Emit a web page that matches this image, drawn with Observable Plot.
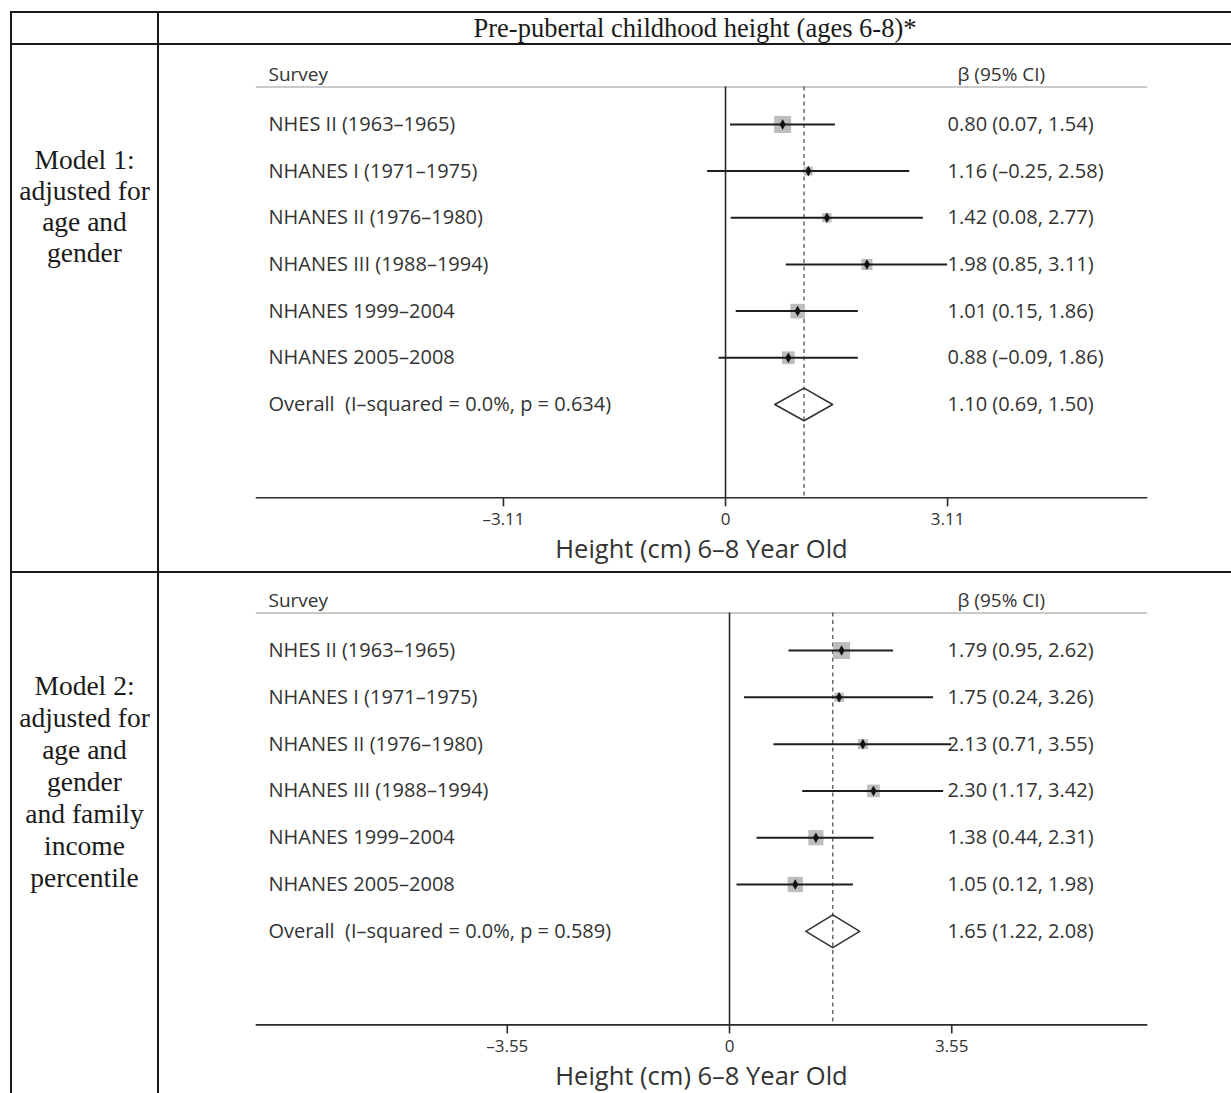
<!DOCTYPE html>
<html>
<head>
<meta charset="utf-8">
<script src="https://cdn.jsdelivr.net/npm/d3@7"></script>
<script src="https://cdn.jsdelivr.net/npm/@observablehq/plot@0.6"></script>
<style>
  html, body { margin: 0; padding: 0; background: #fff; }
  #wrap { position: relative; width: 1231px; height: 1093px; overflow: hidden; background: #fff; }
  .ln { position: absolute; background: #1a1a1a; }
  .serif { position: absolute; font-family: "Liberation Serif", "Times New Roman", serif; color: #1a1a1a; text-align: center; }
  .panel { position: absolute; left: 160px; }
</style>
</head>
<body>
<div id="wrap">
  <div class="ln" style="left:10px;top:11px;width:1221px;height:2px"></div>
  <div class="ln" style="left:10px;top:43px;width:1221px;height:2px"></div>
  <div class="ln" style="left:10px;top:571px;width:1221px;height:2px"></div>
  <div class="ln" style="left:10px;top:11px;width:2px;height:1082px"></div>
  <div class="ln" style="left:157px;top:11px;width:2px;height:1082px"></div>
  <div class="serif" id="title" style="left:159px;top:13px;width:1072px;height:30px;line-height:30px;font-size:26.5px"></div>
  <div class="serif" id="lab1" style="left:12px;top:144px;width:145px;font-size:27.5px;line-height:31px"></div>
  <div class="serif" id="lab2" style="left:12px;top:670px;width:145px;font-size:27.5px;line-height:32px"></div>
  <div class="panel" id="p1" style="top:46px"></div>
  <div class="panel" id="p2" style="top:574px"></div>
</div>
<script>
// ---------- data ----------
const title = "Pre-pubertal childhood height (ages 6-8)*";
const modelLabels = [
  ["Model 1:", "adjusted for", "age and", "gender"],
  ["Model 2:", "adjusted for", "age and", "gender", "and family", "income", "percentile"]
];
const surveys = [
  "NHES II (1963–1965)",
  "NHANES I (1971–1975)",
  "NHANES II (1976–1980)",
  "NHANES III (1988–1994)",
  "NHANES 1999–2004",
  "NHANES 2005–2008"
];
const headerLeft = "Survey";
const headerRight = "β (95% CI)";
const axisTitle = "Height (cm) 6–8 Year Old";

// Model 1
const m1Est = [0.80, 1.16, 1.42, 1.98, 1.01, 0.88];
const m1Lo  = [0.07, -0.25, 0.08, 0.85, 0.15, -0.09];
const m1Hi  = [1.54, 2.58, 2.77, 3.11, 1.86, 1.86];
const m1Weight = [30.3, 8.2, 9.0, 12.8, 22.4, 17.2];   // estimated % weights (square size)
const m1Overall = {est: 1.10, lo: 0.69, hi: 1.50, i2: "0.0%", p: "0.634"};
const m1Ticks = [-3.11, 0, 3.11];

// Model 2
const m2Est = [1.79, 1.75, 2.13, 2.30, 1.38, 1.05];
const m2Lo  = [0.95, 0.24, 0.71, 1.17, 0.44, 0.12];
const m2Hi  = [2.62, 3.26, 3.55, 3.42, 2.31, 1.98];
const m2Weight = [26.3, 8.0, 9.1, 14.5, 20.9, 21.2];
const m2Overall = {est: 1.65, lo: 1.22, hi: 2.08, i2: "0.0%", p: "0.589"};
const m2Ticks = [-3.55, 0, 3.55];

// ---------- helpers ----------
const sans = "'Open Sans', 'DejaVu Sans', sans-serif";
const dash = s => s.replace("-", "–");
const f2 = v => dash(v.toFixed(2));
const ciText = (e, l, h) => `${f2(e)} (${f2(l)}, ${f2(h)})`;
const ink = "#333";

function forest({est, lo, hi, weight, overall, ticks, domain, height, marginTop, marginBottom}) {
  const rows = surveys.map((s, i) => ({
    label: s, est: est[i], lo: lo[i], hi: hi[i], w: weight[i], idx: i + 1,
    txt: ciText(est[i], lo[i], hi[i])
  }));
  const oIdx = rows.length + 1;
  const ov = {
    label: `Overall  (I–squared = ${overall.i2}, p = ${overall.p})`,
    idx: oIdx, txt: ciText(overall.est, overall.lo, overall.hi)
  };
  const hh = 0.35;
  const diamond = [
    {x: overall.lo, y: oIdx}, {x: overall.est, y: oIdx - hh},
    {x: overall.hi, y: oIdx}, {x: overall.est, y: oIdx + hh},
    {x: overall.lo, y: oIdx}
  ];
  const textRows = [...rows, ov];
  const yDomain = [0.2, 9];
  const yBottom = yDomain[1];
  return Plot.plot({
    width: 1071,
    height,
    marginLeft: 96,
    marginRight: 85,
    marginTop,
    marginBottom,
    style: {fontFamily: sans, color: ink, background: "transparent", overflow: "visible"},
    x: {domain, axis: null},
    y: {domain: yDomain, reverse: true, axis: null},
    r: {domain: [0, d3.max(weight)], range: [0, 9.6]},
    marks: [
      Plot.frame({anchor: "top", stroke: "#b8b8b8", strokeWidth: 1.5}),
      Plot.ruleX([0], {stroke: "#2a2a2a", strokeWidth: 1.6}),
      Plot.ruleX([overall.est], {stroke: "#444", strokeWidth: 1.2, strokeDasharray: "4,3.5"}),
      Plot.dot(rows, {x: "est", y: "idx", r: "w", symbol: "square", fill: "#bdbdbd"}),
      Plot.ruleY(rows, {y: "idx", x1: "lo", x2: "hi", stroke: "#1e1e1e", strokeWidth: 2}),
      Plot.dot(rows, {x: "est", y: "idx", r: 3.2, symbol: "diamond", fill: "#111"}),
      Plot.line(diamond, {x: "x", y: "y", stroke: "#333", strokeWidth: 1.6, fill: "none"}),
      Plot.text(textRows, {y: "idx", text: "label", frameAnchor: "left", dx: 12, textAnchor: "start", fontSize: 20, fill: ink}),
      Plot.text(textRows, {y: "idx", text: "txt", frameAnchor: "right", dx: -199, textAnchor: "start", fontSize: 20, fill: ink}),
      Plot.text([headerLeft], {y: () => 0, text: d => d, frameAnchor: "left", dx: 12, dy: -3, textAnchor: "start", fontSize: 19, fill: ink}),
      Plot.text([headerRight], {y: () => 0, text: d => d, frameAnchor: "right", dx: -189, dy: -3, textAnchor: "start", fontSize: 19, fill: ink}),
      Plot.frame({anchor: "bottom", stroke: "#2a2a2a", strokeWidth: 1.6}),
      // tick marks hanging below the axis line
      Plot.ruleX(ticks, {x: d => d, y1: () => yBottom, y2: () => yBottom, insetBottom: -9, stroke: "#2a2a2a", strokeWidth: 1.6}),
      Plot.axisX({ticks, tickSize: 0, tickPadding: 15, tickFormat: d => d === 0 ? "0" : f2(d), label: null, fontSize: 17, fill: ink}),
      Plot.text([axisTitle], {text: d => d, frameAnchor: "bottom", dy: 60, fontSize: 25.5, fill: ink})
    ]
  });
}

document.getElementById("title").textContent = title;
document.getElementById("lab1").innerHTML = modelLabels[0].join("<br>");
document.getElementById("lab2").innerHTML = modelLabels[1].join("<br>");

document.getElementById("p1").appendChild(forest({
  est: m1Est, lo: m1Lo, hi: m1Hi, weight: m1Weight, overall: m1Overall, ticks: m1Ticks,
  domain: [-6.569, 5.896], height: 526, marginTop: 40.6, marginBottom: 74.7
}));
document.getElementById("p2").appendChild(forest({
  est: m2Est, lo: m2Lo, hi: m2Hi, weight: m2Weight, overall: m2Overall, ticks: m2Ticks,
  domain: [-7.556, 6.661], height: 519, marginTop: 38.6, marginBottom: 68.6
}));
</script>
</body>
</html>
